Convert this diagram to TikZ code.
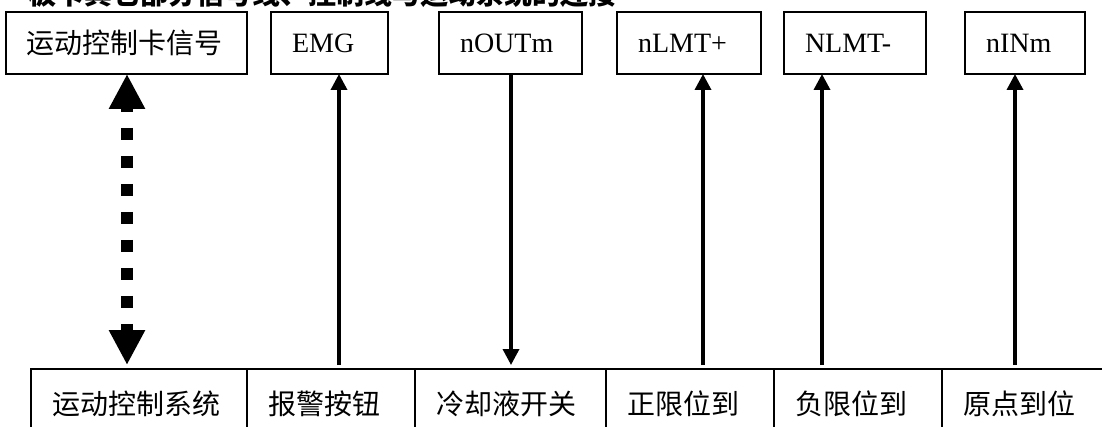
\documentclass[tikz,border=0pt]{standalone}
\usepackage{fontspec}
\setmainfont{Liberation Serif}
\newfontfamily\cjk{Noto Sans CJK SC}
\usetikzlibrary{arrows.meta,calc}
\begin{document}
\begin{tikzpicture}[x=1pt,y=-1pt,
  box/.style={draw,line width=1.8pt,rectangle,anchor=north west,outer sep=0pt,
    minimum height=62pt,inner xsep=21pt,inner ysep=0pt,align=left,
    font=\fontsize{28}{30}\selectfont},
  cjkbox/.style={box,font=\cjk\fontsize{28}{30}\selectfont},
  cell/.style={draw,line width=1.8pt,rectangle,anchor=north west,outer sep=0pt,
    minimum height=69pt,inner xsep=21pt,inner ysep=0pt,align=left,
    font=\cjk\fontsize{28}{30}\selectfont},
  sig/.style={line width=3.5pt,-{Triangle[width=16pt,length=16pt]}},
  dual/.style={line width=12pt,
    {Triangle[width=34pt,length=35pt]}-{Triangle[width=34pt,length=35pt]},
    dash pattern=on 12pt off 16pt,dash phase=7pt}]
\useasboundingbox (0,0) rectangle (1102,427);

% title (cut off at top)
\node[anchor=base west,inner sep=0pt,font=\cjk\bfseries\fontsize{28}{30}\selectfont]
  (title) at (28,5) {板卡其它部分信号线、控制线与运动系统的连接};

% top signal boxes
\node[cjkbox,text width=199pt] (card) at (5.7,12) {运动控制卡信号};
\node[box,text width=75pt]  (emg)  at (271,12) {EMG};
\node[box,text width=101pt] (nout) at (439,12) {nOUTm};
\node[box,text width=102pt] (lmtp) at (617,12) {nLMT+};
\node[box,text width=100pt] (lmtm) at (784,12) {NLMT-};
\node[box,text width=78pt]  (nin)  at (965,12) {nINm};

% bottom row of cells
\node[cell,text width=174pt] (sys)   at (31,369)  {运动控制系统};
\node[cell,text width=126pt] (alarm) at (247,369) {报警按钮};
\node[cell,text width=149pt] (cool)  at (415,369) {冷却液开关};
\node[cell,text width=126pt] (posl)  at (606,369) {正限位到};
\node[cell,text width=126pt] (negl)  at (774,369) {负限位到};
\node[cell,text width=126pt] (home)  at (942,369) {原点到位};

% connector columns
\coordinate (c0) at (127,0);
\coordinate (c1) at (339,0);
\coordinate (c2) at (511,0);
\coordinate (c3) at (703,0);
\coordinate (c4) at (822,0);
\coordinate (c5) at (1015,0);

\draw[dual,shorten >=4pt] (c0 |- card.south) -- (c0 |- sys.north);
\draw[sig,shorten <=4pt] (c1 |- alarm.north) -- (c1 |- emg.south);
\draw[sig,shorten >=4pt] (c2 |- nout.south) -- (c2 |- cool.north);
\draw[sig,shorten <=4pt] (c3 |- posl.north) -- (c3 |- lmtp.south);
\draw[sig,shorten <=4pt] (c4 |- negl.north) -- (c4 |- lmtm.south);
\draw[sig,shorten <=4pt] (c5 |- home.north) -- (c5 |- nin.south);
\end{tikzpicture}
\end{document}
